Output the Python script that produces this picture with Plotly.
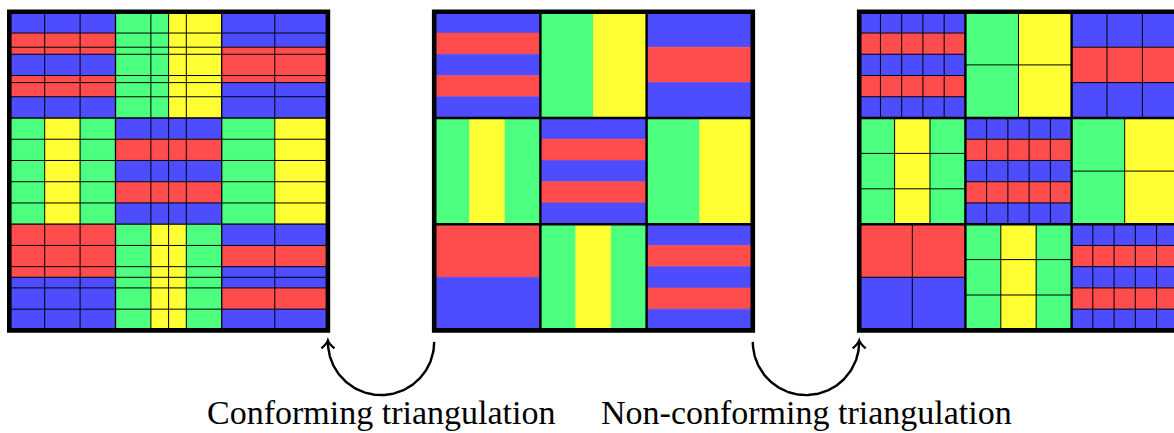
import numpy as np
import plotly.graph_objects as go

# ---- data: 3x3 blocks, stripe orientation and stripe colours ----
block_kind = [
    ["h", "v", "h"],
    ["v", "h", "v"],
    ["h", "v", "h"],
]
block_colors = [
    [["B", "R", "B", "R", "B"], ["G", "Y"], ["B", "R", "B"]],
    [["G", "Y", "G"], ["B", "R", "B", "R", "B"], ["G", "Y"]],
    [["R", "B"], ["G", "Y", "G"], ["B", "R", "B", "R", "B"]],
]
palette = {"B": "#4d4dff", "R": "#ff4d4d", "G": "#4dff7f", "Y": "#ffff33"}
panel_modes = ["conforming", "original", "nonconforming"]
labels = ["Conforming triangulation", "Non-conforming triangulation"]

# ---- layout geometry (pixels) ----
W, H = 1174, 433
PANEL = 318.6
PX0 = [9.3, 434.2, 859.2]
PY0 = 11.8
BS = PANEL / 3
THIN, BLOCK_W_P1, BLOCK_W, OUTER_W = 1.0, 1.3, 2.4, 4.6
ARC_DY = 11.5
LABEL_Y = 412

shapes = []


def rect(x0, y0, x1, y1, fill):
    shapes.append(dict(type="rect", xref="x", yref="y", x0=x0, y0=y0, x1=x1, y1=y1,
                       fillcolor=fill, line=dict(color=fill, width=0.6), layer="above"))


def seg(x0, y0, x1, y1, w):
    shapes.append(dict(type="line", xref="x", yref="y", x0=x0, y0=y0, x1=x1, y1=y1,
                       line=dict(color="black", width=w), layer="above"))


for p, mode in enumerate(panel_modes):
    px0 = PX0[p]
    # fills
    for r in range(3):
        for c in range(3):
            bx0, by0 = px0 + c * BS, PY0 + r * BS
            cols = block_colors[r][c]
            n = len(cols)
            for i, col in enumerate(cols):
                if block_kind[r][c] == "h":
                    rect(bx0, by0 + i * BS / n, bx0 + BS, by0 + (i + 1) * BS / n, palette[col])
                else:
                    rect(bx0 + i * BS / n, by0, bx0 + (i + 1) * BS / n, by0 + BS, palette[col])
    # mesh lines
    if mode == "conforming":
        for c in range(3):
            fr = set()
            for r in range(3):
                if block_kind[r][c] == "v":
                    n = len(block_colors[r][c])
                    fr |= {k / n for k in range(1, n)}
            for f in sorted(fr):
                x = px0 + (c + f) * BS
                seg(x, PY0, x, PY0 + PANEL, THIN)
        for r in range(3):
            fr = set()
            for c in range(3):
                if block_kind[r][c] == "h":
                    n = len(block_colors[r][c])
                    fr |= {k / n for k in range(1, n)}
            for f in sorted(fr):
                y = PY0 + (r + f) * BS
                seg(px0, y, px0 + PANEL, y, THIN)
        bw = BLOCK_W_P1
    elif mode == "nonconforming":
        for r in range(3):
            for c in range(3):
                bx0, by0 = px0 + c * BS, PY0 + r * BS
                n = len(block_colors[r][c])
                for k in range(1, n):
                    seg(bx0 + k * BS / n, by0, bx0 + k * BS / n, by0 + BS, THIN)
                    seg(bx0, by0 + k * BS / n, bx0 + BS, by0 + k * BS / n, THIN)
        bw = BLOCK_W
    else:
        bw = BLOCK_W
    for k in (1, 2):
        seg(px0 + k * BS, PY0, px0 + k * BS, PY0 + PANEL, bw)
        seg(px0, PY0 + k * BS, px0 + PANEL, PY0 + k * BS, bw)
    shapes.append(dict(type="rect", xref="x", yref="y", x0=px0, y0=PY0, x1=px0 + PANEL,
                       y1=PY0 + PANEL, fillcolor="rgba(0,0,0,0)",
                       line=dict(color="black", width=OUTER_W), layer="above"))

fig = go.Figure()

# arrows between panels
arc_y = PY0 + PANEL + ARC_DY
arrow_specs = [(PX0[1], PX0[0] + PANEL), (PX0[1] + PANEL, PX0[2])]  # (start, end with head)
for i, (xs, xe) in enumerate(arrow_specs):
    cx = (xs + xe) / 2
    rad = abs(xe - xs) / 2
    th = np.linspace(0, np.pi, 120)
    xx = cx + rad * np.cos(th)
    yy = arc_y + rad * np.sin(th)
    fig.add_trace(go.Scatter(x=xx, y=yy, mode="lines", line=dict(color="black", width=2.4),
                             hoverinfo="skip", showlegend=False))
    tx, ty = xe, arc_y - 1.5
    shapes.append(dict(type="path", xref="x", yref="y",
                       path=f"M {tx-6.5},{ty+8} Q {tx-1.2},{ty+3.5} {tx},{ty} "
                            f"Q {tx+1.2},{ty+3.5} {tx+6.5},{ty+8}",
                       line=dict(color="black", width=2.2), fillcolor="rgba(0,0,0,0)"))
    fig.add_annotation(x=cx, y=LABEL_Y, xref="x", yref="y", text=labels[i], showarrow=False,
                       xanchor="center", yanchor="middle",
                       font=dict(family="Liberation Serif", size=34, color="black"))

fig.update_layout(
    width=W, height=H, margin=dict(l=0, r=0, t=0, b=0, pad=0),
    paper_bgcolor="white", plot_bgcolor="white", shapes=shapes,
    xaxis=dict(range=[0, W], visible=False, fixedrange=True),
    yaxis=dict(range=[H, 0], visible=False, fixedrange=True),
)
fig.write_html("out.html", config={"displayModeBar": False},
               post_script="document.body.style.margin='0';document.body.style.overflow='hidden';")
